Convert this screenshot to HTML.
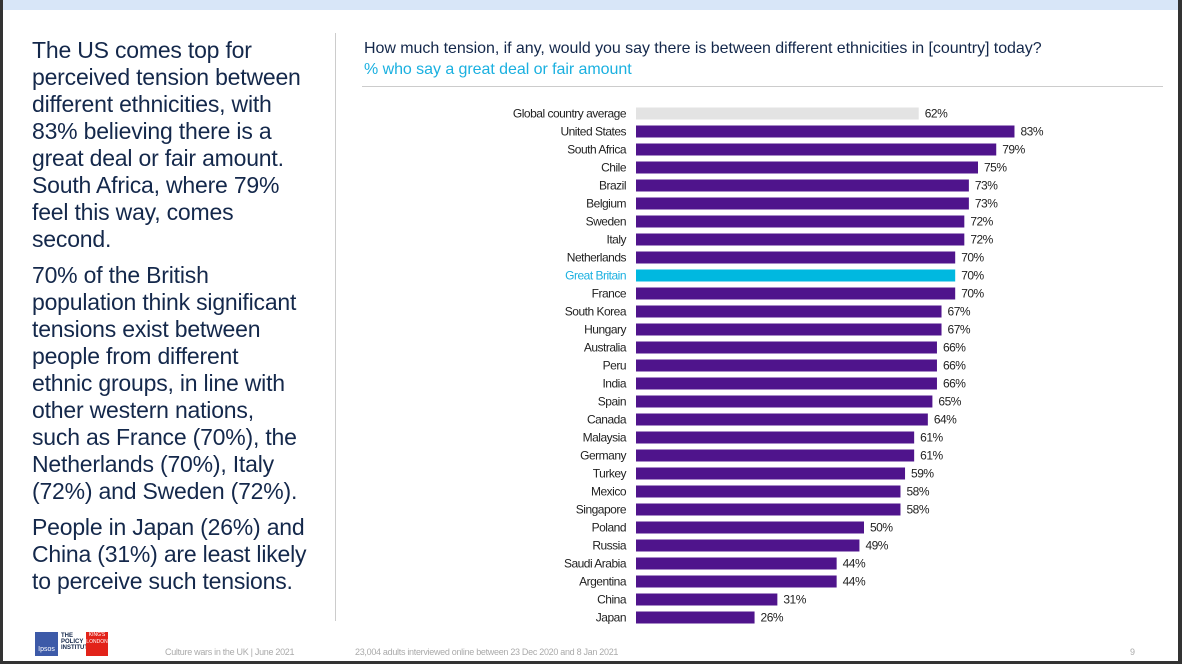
<!DOCTYPE html>
<html><head><meta charset="utf-8"><style>
body{margin:0;width:1182px;height:664px;overflow:hidden;background:#fff;font-family:"Liberation Sans",sans-serif;position:relative}
.frame{position:absolute;background:#333}
.lt{position:absolute;left:32px;font-size:23px;line-height:27px;color:#14284b;letter-spacing:-0.2px;white-space:nowrap}
.ft{position:absolute;font-size:9px;color:#aaa;letter-spacing:-0.3px;white-space:nowrap}
</style></head><body>
<div style="position:absolute;left:0;top:0;width:1182px;height:10px;background:#d8e6f8"></div>
<div class="frame" style="left:0;top:0;width:3px;height:664px"></div>
<div class="frame" style="right:0;top:0;width:4px;height:664px"></div>
<div class="frame" style="left:0;bottom:0;width:1182px;height:3px"></div>

<div class="lt" style="top:37px">The US comes top for<br>perceived tension between<br>different ethnicities, with<br>83% believing there is a<br>great deal or fair amount.<br>South Africa, where 79%<br>feel this way, comes<br>second.</div>
<div class="lt" style="top:262px">70% of the British<br>population think significant<br>tensions exist between<br>people from different<br>ethnic groups, in line with<br>other western nations,<br>such as France (70%), the<br>Netherlands (70%), Italy<br>(72%) and Sweden (72%).</div>
<div class="lt" style="top:514px">People in Japan (26%) and<br>China (31%) are least likely<br>to perceive such tensions.</div>

<div style="position:absolute;left:335px;top:33px;width:1px;height:588px;background:#ccc"></div>
<div style="position:absolute;left:364px;top:40px;font-size:16px;color:#14284b;letter-spacing:-0.05px;white-space:nowrap">How much tension, if any, would you say there is between different ethnicities in [country] today?</div>
<div style="position:absolute;left:364px;top:61px;font-size:16px;color:#1ab0e0;letter-spacing:-0.05px;white-space:nowrap">% who say a great deal or fair amount</div>
<div style="position:absolute;left:362px;top:86px;width:801px;height:1px;background:#ccc"></div>

<svg id="chart" style="position:absolute;left:0;top:0" width="1182" height="664"></svg>

<div style="position:absolute;left:35px;top:632px;width:23px;height:24px;background:#3d5aa8;color:#fff;font-size:7px;text-align:center;line-height:36px">Ipsos</div>
<div style="position:absolute;left:61px;top:633px;font-size:6px;line-height:6px;font-weight:bold;color:#14284b">THE<br>POLICY<br>INSTITUTE</div>
<div style="position:absolute;left:86px;top:632px;width:22px;height:24px;background:#e2231a;color:#fff;font-size:5px;text-align:center;line-height:7px">KING'S<br>LONDON</div>
<div class="ft" style="left:165px;top:647px">Culture wars in the UK | June 2021</div>
<div class="ft" style="left:355px;top:647px">23,004 adults interviewed online between 23 Dec 2020 and 8 Jan 2021</div>
<div class="ft" style="left:1130px;top:647px">9</div>

<script>
const categories=["Global country average","United States","South Africa","Chile","Brazil","Belgium","Sweden","Italy","Netherlands","Great Britain","France","South Korea","Hungary","Australia","Peru","India","Spain","Canada","Malaysia","Germany","Turkey","Mexico","Singapore","Poland","Russia","Saudi Arabia","Argentina","China","Japan"];
const values=[62,83,79,75,73,73,72,72,70,70,70,67,67,66,66,66,65,64,61,61,59,58,58,50,49,44,44,31,26];
const valueLabels=values.map(v=>v+"%");
const svg=document.getElementById('chart');
const NS="http://www.w3.org/2000/svg";
const x0=636, scale=4.56, y0=113.5;
const rowStep=(617.5-113.5)/(categories.length-1);
function xs(v){return x0+v*scale;}
function ys(i){return y0+i*rowStep;}
categories.forEach((c,i)=>{
  const col=i===0?"#e3e3e3":(c==="Great Britain"?"#00b8e0":"#4f148c");
  const r=document.createElementNS(NS,'rect');
  
  
  r.setAttribute('x',x0);r.setAttribute('y',ys(i)-6);
  r.setAttribute('width',xs(values[i])-x0);r.setAttribute('height',12);
  r.setAttribute('fill',col);svg.appendChild(r);
  const t=document.createElementNS(NS,'text');
  
  
  t.setAttribute('x',626);t.setAttribute('y',ys(i)+4);
  t.setAttribute('text-anchor','end');t.setAttribute('font-size','12');
  t.setAttribute('letter-spacing','-0.5');
  t.setAttribute('fill',c==="Great Britain"?"#1ab0e0":"#222");
  t.setAttribute('font-family','Liberation Sans, sans-serif');
  t.textContent=c;svg.appendChild(t);
  const v=document.createElementNS(NS,'text');
  
  
  v.setAttribute('x',xs(values[i])+6);v.setAttribute('y',ys(i)+4);
  v.setAttribute('font-size','12');v.setAttribute('letter-spacing','-0.5');
  v.setAttribute('fill','#222');v.setAttribute('font-family','Liberation Sans, sans-serif');
  v.textContent=valueLabels[i];svg.appendChild(v);
});
</script>
</body></html>
